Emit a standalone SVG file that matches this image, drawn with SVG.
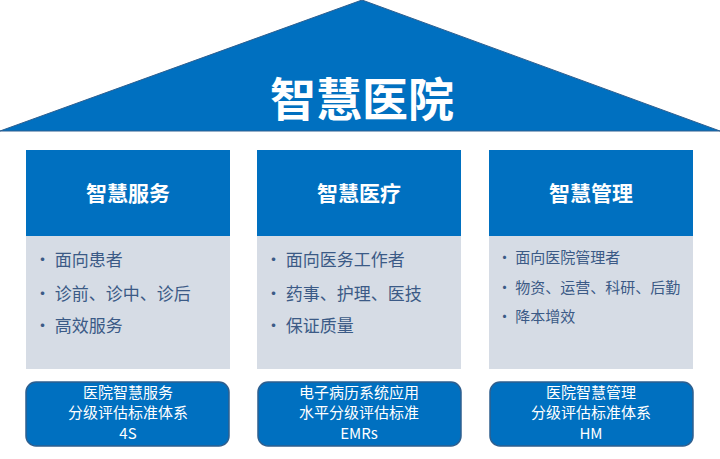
<svg xmlns="http://www.w3.org/2000/svg" width="720" height="459" viewBox="0 0 720 459">
<style>
text{font-family:"Noto Sans CJK SC","Noto Sans",sans-serif}
.hd{fill:#0070c0}
.bd{fill:#d6dce5}
.bt{fill:#0070c0;stroke:#2e5f8f;stroke-width:1.5}
.h{fill:#fff;font-size:21px;font-weight:bold;text-anchor:middle}
.b{fill:#3b5a86;font-size:17px}
.b3{fill:#3b5a86;font-size:15px}
.f{fill:#fff;font-size:15px;text-anchor:middle}
</style>
<rect width="720" height="459" fill="#fff"/>
<g id="roof">
<polygon points="362,0 720,131 0,131" fill="#0070c0" stroke="#2e5f8f" stroke-width="1"/>
<text x="362" y="116" fill="#fff" font-size="46" font-weight="bold" text-anchor="middle">智慧医院</text>
</g>
<g id="col1">
<rect class="hd" x="26" y="150" width="204" height="86"/>
<rect class="bd" x="26" y="236" width="204" height="133"/>
<text class="h" x="128" y="201">智慧服务</text>
<text class="b" x="34" y="266">• 面向患者</text>
<text class="b" x="34" y="300">• 诊前、诊中、诊后</text>
<text class="b" x="34" y="332">• 高效服务</text>
</g>
<g id="col2">
<rect class="hd" x="257" y="150" width="204" height="86"/>
<rect class="bd" x="257" y="236" width="204" height="133"/>
<text class="h" x="359" y="201">智慧医疗</text>
<text class="b" x="265" y="266">• 面向医务工作者</text>
<text class="b" x="265" y="300">• 药事、护理、医技</text>
<text class="b" x="265" y="332">• 保证质量</text>
</g>
<g id="col3">
<rect class="hd" x="489" y="150" width="204" height="86"/>
<rect class="bd" x="489" y="236" width="204" height="133"/>
<text class="h" x="591" y="201">智慧管理</text>
<text class="b3" x="497" y="263">• 面向医院管理者</text>
<text class="b3" x="497" y="293">• 物资、运营、科研、后勤</text>
<text class="b3" x="497" y="322">• 降本增效</text>
</g>
<g id="std1">
<rect class="bt" x="26" y="382" width="203" height="64" rx="10"/>
<text class="f" x="128" y="398">医院智慧服务</text>
<text class="f" x="128" y="418">分级评估标准体系</text>
<text class="f" x="128" y="439">4S</text>
</g>
<g id="std2">
<rect class="bt" x="258" y="382" width="203" height="64" rx="10"/>
<text class="f" x="359" y="398">电子病历系统应用</text>
<text class="f" x="359" y="418">水平分级评估标准</text>
<text class="f" x="359" y="439">EMRs</text>
</g>
<g id="std3">
<rect class="bt" x="490" y="382" width="203" height="64" rx="10"/>
<text class="f" x="591" y="398">医院智慧管理</text>
<text class="f" x="591" y="418">分级评估标准体系</text>
<text class="f" x="591" y="439">HM</text>
</g>
<g id="connectors"/>
</svg>
